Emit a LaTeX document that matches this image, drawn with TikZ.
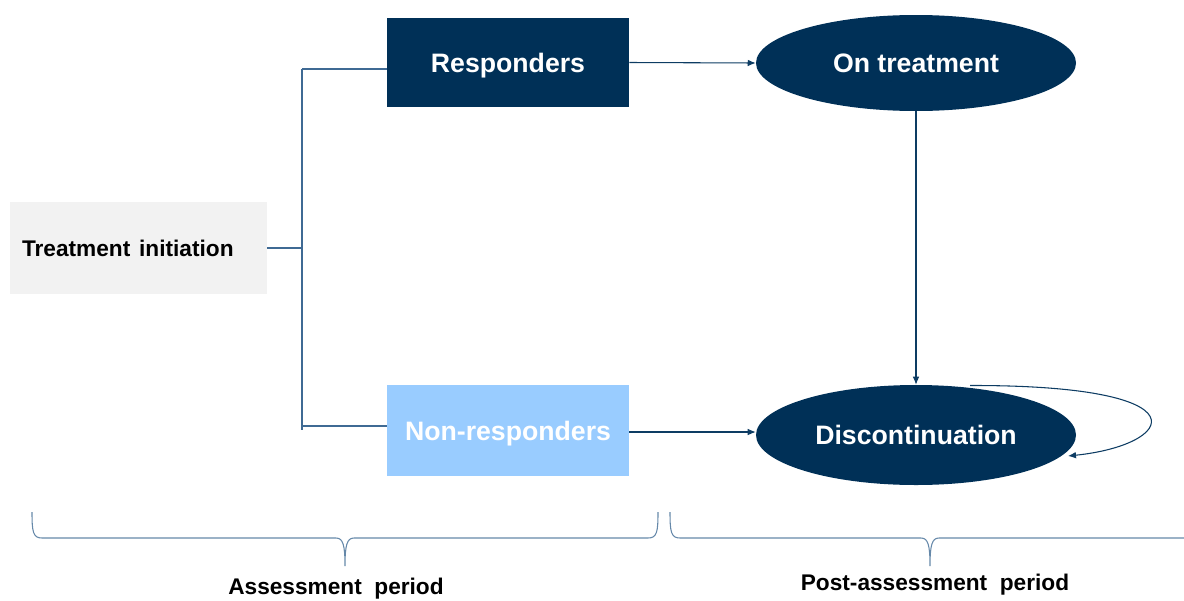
\documentclass[tikz,border=0pt]{standalone}
\usepackage{fontspec}
\setmainfont{Liberation Sans}
\usetikzlibrary{arrows.meta,shapes.geometric}
\definecolor{navy}{HTML}{003057}
\definecolor{lblue}{HTML}{99CCFF}
\definecolor{lgray}{HTML}{F2F2F2}
\definecolor{lnc}{HTML}{3F6A94}
\tikzset{
  boxd/.style={rectangle,fill=navy,text=white,minimum width=242*0.75pt,minimum height=89*0.75pt,inner sep=0pt,text depth=0pt,font=\fontsize{20}{24}\selectfont\bfseries},
  boxl/.style={boxd,fill=lblue,minimum height=91*0.75pt},
  boxg/.style={rectangle,fill=lgray,text=black,minimum width=257*0.75pt,minimum height=92*0.75pt,inner ysep=0pt,inner xsep=12*0.75pt,text width=233*0.75pt,align=left,font=\fontsize{17}{20}\selectfont\bfseries},
  ell/.style={ellipse,fill=navy,text=white,minimum width=320*0.75pt,minimum height=96*0.75pt,inner sep=0pt,font=\fontsize{20}{24}\selectfont\bfseries},
  conn/.style={draw=lnc,line width=0.8pt},
  arr/.style={conn,-{Latex[length=6pt,width=5pt]},draw=navy!80!lnc},
  brace/.style={draw=lnc!80!white,line width=0.8pt},
  lab/.style={font=\fontsize{17}{20}\selectfont\bfseries,text=black,inner sep=0pt}
}
\begin{document}
\begin{tikzpicture}[x=0.75pt,y=-0.75pt]
\useasboundingbox (0,0) rectangle (1184,600);
\node[boxg] (ti) at (138.5,248) {Treatment\ \kern1pt initiation};
\node[boxd] (resp) at (508,62.5) {Responders};
\node[boxl] (nonr) at (508,430.5) {Non-responders};
\node[ell] (ont) at (916,63) {On treatment};
\node[ell,minimum height=100*0.75pt] (disc) at (916,435) {Discontinuation};
\coordinate (jm) at (302,248);
\coordinate (jt) at (302,69);
\coordinate (jb) at (302,430);
\coordinate (jbb) at (302,426);
\draw[conn] (ti.east |- jm) -- (jm);
\draw[conn] (jt) -- (jb);
\draw[conn] (jt) -- (jt -| resp.west);
\draw[conn] (jbb) -- (jbb -| nonr.west);
\draw[arr] (resp.east) -- (ont.west);
\draw[arr] (nonr.east |- 0,432) -- (ont.west |- 0,432);
\draw[arr] (ont.south) -- (disc.north);
\coordinate (ls) at (970,385.5);
\coordinate (le) at (1068,456);
\draw[arr] (ls) .. controls (1210,385) and (1175,445) .. (le);
% braces
\coordinate (b1a) at (32,512);
\coordinate (b1t) at (345,566);
\coordinate (b1b) at (658,512);
\draw[brace] (b1a) .. controls (32,532) and (33,538) .. (42,538) -- (336,538)
  .. controls (343,538) and (345,545) .. (b1t)
  .. controls (345,545) and (347,538) .. (354,538) -- (648,538)
  .. controls (657,538) and (658,532) .. (b1b);
\coordinate (b2a) at (670,512);
\coordinate (b2t) at (930,566);
\draw[brace] (b2a) .. controls (670,532) and (671,538) .. (680,538) -- (921,538)
  .. controls (928,538) and (930,545) .. (b2t)
  .. controls (930,545) and (932,538) .. (939,538) -- (1184,538);
\node[lab] (al) at (336,589) {Assessment\ \ period};
\node[lab] (pl) at (935,585) {Post-assessment\ \ period};
\end{tikzpicture}
\end{document}
